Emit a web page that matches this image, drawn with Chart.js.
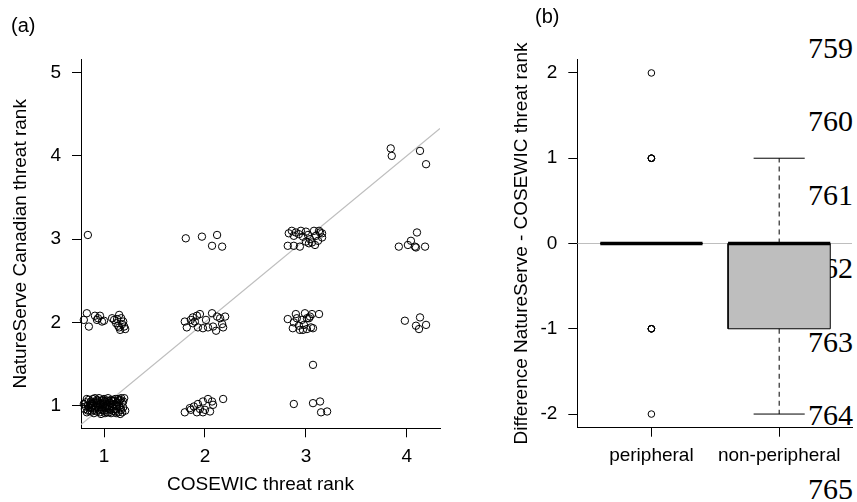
<!DOCTYPE html>
<html><head><meta charset="utf-8">
<script src="https://cdn.jsdelivr.net/npm/chart.js@4"></script>
<style>
html,body{margin:0;padding:0;background:#fff;overflow:hidden;width:857px;height:502px;}
#wrap{position:relative;width:857px;height:502px;overflow:hidden;}
canvas{position:absolute;top:0;z-index:2;}
#ca{left:0;width:450px;height:502px;}
#cb{left:490px;width:367px;height:502px;}
.ln{position:absolute;left:700px;width:153px;text-align:right;font:30px/30px "Liberation Serif","Times New Roman",serif;color:#000;z-index:1;white-space:nowrap;}
.pl{position:absolute;font:20px/20px "Liberation Sans",Arial,sans-serif;color:#000;z-index:3;}
</style></head><body>
<div id="wrap">
<div class="pl" style="left:11px;top:15px">(a)</div>
<div class="pl" style="left:535px;top:6px">(b)</div>
<canvas id="ca" width="450" height="502"></canvas>
<canvas id="cb" width="367" height="502"></canvas>
</div>
<script>
// ---------- Panel (a) data: jittered ranks [COSEWIC, NatureServe] ----------
const xTicksA = [1, 2, 3, 4];
const yTicksA = [1, 2, 3, 4, 5];
const xLabelA = 'COSEWIC threat rank';
const yLabelA = 'NatureServe Canadian threat rank';

const c1n1 = [[0.81,0.96],[0.82,1.04],[0.83,0.92],[0.84,1.0],[0.85,1.07],[0.86,0.94],[0.87,1.02],[0.88,0.98],[0.89,1.08],[0.9,0.91],[0.9,1.03],[0.91,0.97],[0.92,1.05],[0.93,0.93],[0.94,1.0],[0.95,1.09],[0.95,0.95],[0.96,1.02],[0.97,0.9],[0.98,1.06],[0.98,0.98],[0.99,1.01],[1.0,0.94],[1.0,1.08],[1.01,0.97],[1.02,1.04],[1.03,0.92],[1.04,1.0],[1.04,1.09],[1.05,0.96],[1.06,1.03],[1.07,0.91],[1.08,1.06],[1.08,0.99],[1.09,0.94],[1.1,1.02],[1.11,1.08],[1.12,0.96],[1.13,1.04],[1.14,0.92],[1.15,1.0],[1.16,1.07],[1.17,0.95],[1.18,1.03],[1.19,0.98],[1.2,1.09],[1.18,0.92],[1.16,0.9],[0.83,1.08],[0.86,1.01],[0.88,0.93],[0.92,0.99],[0.94,1.06],[0.96,0.92],[0.99,1.07],[1.01,0.91],[1.03,1.06],[1.06,0.95],[1.09,1.05],[1.11,0.93],[1.13,0.99],[1.15,1.06],[0.85,0.98],[0.87,1.05],[0.91,1.09],[0.97,1.03],[1.02,0.99],[1.07,1.07],[1.12,1.01],[1.17,1.09],[1.21,0.94],[0.8,1.02],
  [0.84,0.94],[0.87,0.97],[0.89,1.0],[0.93,1.03],[0.95,0.98],[0.98,0.95],[1.0,1.02],[1.03,0.97],[1.05,1.05],[1.06,0.99],[1.09,1.01],[1.1,0.96],[1.14,1.08],[1.16,0.97],[1.19,1.05],[0.82,0.99],[0.9,0.95],[0.97,0.96],[1.01,1.05],[1.12,0.91],[1.05,0.92],[0.93,1.07],[1.1,1.06],[0.88,1.03]];
const c1n2 = [[0.83,2.11],[0.8,2.03],[0.85,1.95],[0.91,2.08],[0.94,2.05],[0.96,2.08],[1.0,2.02],[1.08,2.05],[1.1,2.03],[1.15,2.09],[1.12,1.99],[1.14,1.96],[1.18,1.98],[1.16,1.91],[1.21,1.92],[1.19,2.01],[1.17,2.05],[0.98,2.01],[1.13,2.04],[0.93,2.03],[1.2,1.95],[1.15,1.94]];
const c1n3 = [[0.84,3.05]];
const c2n1 = [[1.8,0.92],[1.85,0.97],[1.89,0.99],[1.93,1.02],[1.98,1.05],[2.03,1.08],[2.07,1.05],[2.08,1.01],[2.18,1.08],[1.92,0.92],[1.98,0.92],[2.05,0.93],[1.95,0.96],[2.0,0.95],[1.86,0.95]];
const c2n2 = [[1.8,2.01],[1.82,1.94],[1.86,2.03],[1.88,2.06],[1.92,2.08],[1.95,2.1],[1.93,1.94],[1.98,1.93],[2.01,2.03],[2.03,1.94],[2.07,2.11],[2.08,1.95],[2.11,1.9],[2.12,2.07],[2.15,2.05],[2.18,1.94],[2.17,1.98],[2.2,2.07],[1.88,1.99],[1.9,2.01]];
const c2n3 = [[1.81,3.01],[1.97,3.03],[2.12,3.05],[2.07,2.92],[2.17,2.91]];
const c3n1 = [[2.88,1.02],[3.07,1.03],[3.14,1.05],[3.15,0.92],[3.21,0.93]];
const c3n15 = [[3.07,1.49]];
const c3n2 = [[2.82,2.04],[2.9,2.1],[2.99,2.11],[3.06,2.1],[3.13,2.1],[2.88,2.0],[2.93,1.96],[2.98,1.97],[3.03,2.05],[3.07,1.93],[2.87,1.93],[2.94,1.91],[3.01,1.92],[3.05,1.94],[3.04,2.07],[3.01,2.05],[2.91,2.05],[2.97,1.91],[2.96,2.03]];
const c3n3 = [[2.83,3.07],[2.86,3.1],[2.88,3.04],[2.9,3.08],[2.93,3.06],[2.95,3.1],[2.97,3.03],[3.0,3.09],[3.02,3.05],[3.04,3.0],[3.06,2.96],[3.08,3.1],[3.1,3.04],[3.12,2.98],[3.14,3.08],[3.16,3.02],[3.16,3.07],[3.09,2.93],[3.03,2.95],[2.82,2.92],[2.88,2.92],[2.94,2.91],[3.0,2.97],[3.13,3.1]];
const c4n2 = [[3.98,2.02],[4.13,2.06],[4.09,1.96],[4.12,1.92],[4.19,1.97]];
const c4n3 = [[3.92,2.91],[4.01,2.93],[4.04,2.98],[4.1,3.08],[4.08,2.91],[4.09,2.9],[4.18,2.91]];
const c4n4 = [[3.84,4.09],[3.85,4.0],[4.13,4.06],[4.19,3.9]];

// ---------- Panel (b) data: boxplot statistics ----------
const groupsB = ['peripheral', 'non-peripheral'];
const yTicksB = [-2, -1, 0, 1, 2];
const yLabelB = 'Difference NatureServe - COSEWIC threat rank';
const boxMin = [0, -2];
const boxQ1  = [0, -1];
const boxMed = [0, 0];
const boxQ3  = [0, 0];
const boxMax = [0, 1];
const outliersB = [[2, 1, 1, 1, 1, -1, -1, -1, -1, -2], []];

// manuscript line numbers shown at right
const lineNumbers = ['759', '760', '761', '762', '763', '764', '765'];

// ---------- layout / style ----------
const FONT = '"Liberation Sans", Arial, Helvetica, sans-serif';
Chart.defaults.font.family = FONT;
Chart.defaults.font.size = 19;
Chart.defaults.color = '#000';
const xRangeA = [0.772, 4.328], yRangeA = [0.728, 5.16];
const xRangeB = [0.42, 2.57], yRangeB = [-2.16, 2.16];
const GRAY = '#bebebe';

// line numbers (behind chart b)
const wrap = document.getElementById('wrap');
lineNumbers.forEach((t, i) => {
  const d = document.createElement('div');
  d.className = 'ln';
  d.textContent = t;
  d.style.top = (32.9 + i * 73.5) + 'px';
  wrap.appendChild(d);
});

function axisBase(tickVals, labelFn) {
  return {
    type: 'linear',
    afterBuildTicks: s => { s.ticks = tickVals.map(v => ({ value: v })); },
    grid: { drawOnChartArea: false, drawTicks: true, tickLength: 9, color: '#000', lineWidth: 1 },
    border: { display: true, color: '#000', width: 1 },
    ticks: { autoSkip: false, maxRotation: 0, minRotation: 0, callback: labelFn, color: '#000' }
  };
}

// ---------- Chart (a) ----------
const pointsA = [].concat(c1n1, c1n2, c1n3, c2n1, c2n2, c2n3, c3n1, c3n15, c3n2, c3n3, c4n2, c4n3, c4n4)
  .map(p => ({ x: p[0], y: p[1] }));

const axA_x = axisBase(xTicksA, v => String(v));
Object.assign(axA_x, { min: xRangeA[0], max: xRangeA[1], afterFit: s => { s.height = 73.7; },
  title: { display: true, text: xLabelA, color: '#000', padding: { top: 0, bottom: 5.6 } } });
axA_x.ticks.padding = 8;
const axA_y = axisBase(yTicksA, v => String(v));
Object.assign(axA_y, { min: yRangeA[0], max: yRangeA[1], afterFit: s => { s.width = 81; },
  title: { display: true, text: yLabelA, color: '#000', padding: { top: 9.6, bottom: 0 } } });
axA_y.ticks.padding = 11;

new Chart(document.getElementById('ca'), {
  type: 'scatter',
  data: { datasets: [
    { data: pointsA, pointRadius: 3.7, pointHoverRadius: 3.7, pointBorderColor: '#000',
      pointBackgroundColor: 'rgba(0,0,0,0)', pointBorderWidth: 1, showLine: false, clip: false, order: 1 },
    { data: [{ x: xRangeA[0], y: xRangeA[0] }, { x: xRangeA[1], y: xRangeA[1] }], showLine: true,
      borderColor: GRAY, borderWidth: 1.2, pointRadius: 0, fill: false, order: 2 }
  ]},
  options: {
    responsive: false, animation: false, devicePixelRatio: 1,
    layout: { padding: { top: 59.3, right: 10, left: 0, bottom: 0 } },
    plugins: { legend: { display: false }, tooltip: { enabled: false } },
    events: [],
    scales: { x: axA_x, y: axA_y }
  }
});

// ---------- Chart (b) ----------
const HW = 0.4, CW = 0.2;
const dsB = [];
dsB.push({ data: [{ x: xRangeB[0], y: 0 }, { x: xRangeB[1], y: 0 }], showLine: true, borderColor: GRAY,
  borderWidth: 1.2, pointRadius: 0, fill: false, order: 20 });
groupsB.forEach((g, i) => {
  const cx = i + 1;
  const line = (pts, extra) => Object.assign({ data: pts, showLine: true, pointRadius: 0, borderColor: '#000',
    borderWidth: 1, fill: false }, extra);
  dsB.push(line([{ x: cx - HW, y: boxQ1[i] }, { x: cx + HW, y: boxQ1[i] }],
    { borderWidth: 0, borderColor: 'rgba(0,0,0,0)', fill: { value: boxQ3[i] }, backgroundColor: GRAY, order: 19 }));
  dsB.push(line([{ x: cx - HW, y: boxQ1[i] }, { x: cx + HW, y: boxQ1[i] }, { x: cx + HW, y: boxQ3[i] },
    { x: cx - HW, y: boxQ3[i] }, { x: cx - HW, y: boxQ1[i] }], { order: 18 }));
  dsB.push(line([{ x: cx, y: boxQ3[i] }, { x: cx, y: boxMax[i] }], { borderDash: [5, 4], order: 17 }));
  dsB.push(line([{ x: cx, y: boxQ1[i] }, { x: cx, y: boxMin[i] }], { borderDash: [5, 4], order: 17 }));
  dsB.push(line([{ x: cx - CW, y: boxMax[i] }, { x: cx + CW, y: boxMax[i] }], { order: 16 }));
  dsB.push(line([{ x: cx - CW, y: boxMin[i] }, { x: cx + CW, y: boxMin[i] }], { order: 16 }));
  dsB.push(line([{ x: cx - HW, y: boxMed[i] }, { x: cx + HW, y: boxMed[i] }], { borderWidth: 3.5, order: 15 }));
  if (outliersB[i].length) {
    dsB.push({ data: outliersB[i].map(v => ({ x: cx, y: v })), showLine: false, pointRadius: 3.3,
      pointBorderColor: '#000', pointBackgroundColor: 'rgba(0,0,0,0)', pointBorderWidth: 1, clip: false, order: 10 });
  }
});

const axB_x = axisBase([1, 2], v => groupsB[Math.round(v) - 1] || '');
Object.assign(axB_x, { min: xRangeB[0], max: xRangeB[1], afterFit: s => { s.height = 74.3; } });
axB_x.ticks.padding = 8;
const axB_y = axisBase(yTicksB, v => String(v));
Object.assign(axB_y, { min: yRangeB[0], max: yRangeB[1], afterFit: s => { s.width = 87.3; },
  title: { display: true, text: yLabelB, color: '#000', padding: { top: 20.6, bottom: 0 } } });
axB_y.ticks.padding = 11;

new Chart(document.getElementById('cb'), {
  type: 'scatter',
  data: { datasets: dsB },
  options: {
    responsive: false, animation: false, devicePixelRatio: 1,
    layout: { padding: { top: 59.3, right: 0, left: 0, bottom: 0 } },
    plugins: { legend: { display: false }, tooltip: { enabled: false } },
    events: [],
    scales: { x: axB_x, y: axB_y }
  }
});
</script>
</body></html>
